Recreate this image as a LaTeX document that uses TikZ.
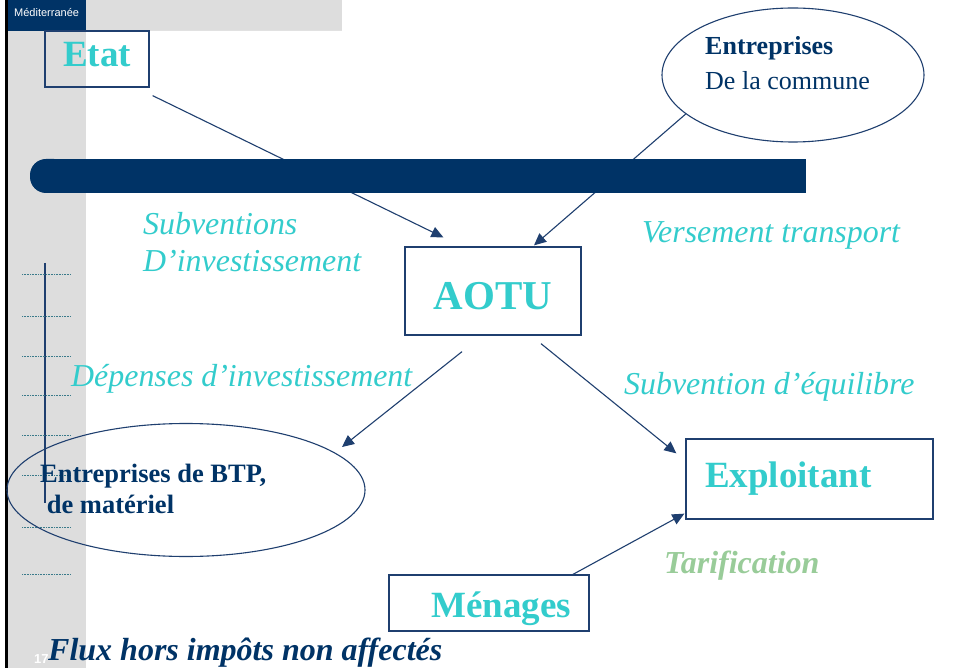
\documentclass[tikz,border=0pt]{standalone}
\usepackage{fontspec}
\setmainfont{Liberation Serif}
\newfontfamily\arialf{Liberation Sans}
\usetikzlibrary{arrows.meta,shapes.geometric}
\definecolor{navy}{HTML}{003366}
\definecolor{linec}{HTML}{1F3F6F}
\definecolor{cyant}{HTML}{33CCCC}
\definecolor{greent}{HTML}{99CC99}
\definecolor{grayb}{HTML}{DDDDDD}
\definecolor{dotc}{HTML}{3A7A8A}
\tikzset{
  boxn/.style={draw=linec, line width=1.3pt, rectangle, inner sep=0pt, text=cyant, font=\bfseries\fontsize{37}{40}\selectfont},
  ellnode/.style={draw=linec, line width=1.1pt, ellipse, inner sep=0pt},
  flow/.style={draw=linec, line width=1.1pt, -{Triangle[length=12pt,width=11pt]}},
  lbl/.style={anchor=base west, inner sep=0pt, text=cyant, font=\itshape\fontsize{31.9}{34}\selectfont},
  decdot/.style={draw=dotc, line width=0.8pt, dash pattern=on 1pt off 0.6pt}
}
\begin{document}
\begin{tikzpicture}[x=1pt,y=-1pt]
\useasboundingbox (0,0) rectangle (956,668);
% background decorations
\fill[grayb] (8,0) rectangle (86,668);
\fill[grayb] (86,0) rectangle (342,31);
\fill[white, rounded corners=15] (86,31) rectangle (980,700);
\fill[navy] (8,0) rectangle (86,31);
\draw[black, line width=3pt] (6.5,0) -- (6.5,668);
\node[anchor=base west, inner sep=0pt, text=white, font=\arialf\fontsize{11}{12}\selectfont] (brand) at (14,17) {Méditerranée};
\node[anchor=base west, inner sep=0pt, text=white, font=\arialf\bfseries\fontsize{13}{14}\selectfont] (pnum) at (34,663) {17};
% left ruler
\draw[linec, line width=1.3pt] (45,263) -- (45,503);
\foreach \yy in {274,316,356,395,435,475,527,574} {
  \draw[decdot] (22,\yy) -- (71,\yy);
}
% nodes
\node[boxn, minimum width=104pt, minimum height=56pt, text height=22pt, text depth=6pt] (etat) at (97,59) {Etat};
\node[ellnode, minimum width=262pt, minimum height=134pt] (ent) at (793,75) {};
\node[anchor=base west, inner sep=0pt, text=navy, align=left, font=\fontsize{26}{35}\selectfont] (entT) at (705,90) {\textbf{Entreprises}\\De la commune};
\node[boxn, minimum width=176pt, minimum height=88pt, font=\bfseries\fontsize{41}{44}\selectfont, text height=38pt, text depth=0pt] (aotu) at (493,291) {AOTU};
\node[ellnode, minimum width=358pt, minimum height=133pt] (btp) at (186,490) {};
\node[boxn, minimum width=247pt, minimum height=80pt, text width=209pt, inner xsep=19pt, align=left, text height=26pt, text depth=10pt] (expl) at (809.5,479) {Exploitant};
\node[boxn, minimum width=200pt, minimum height=56pt, text width=164pt, inner xsep=18pt, align=right, text height=34pt, text depth=6pt] (men) at (489,603) {Ménages};
% connectors
\draw[flow] ([shift={(3,8)}]etat.south east) -- ([shift={(39,-9)}]aotu.north west);
\draw[flow] (ent.200) -- ([shift={(41,-1)}]aotu.north);
\draw[flow] ([shift={(-31,16)}]aotu.south) -- ([shift={(156,-43)}]btp.center);
\draw[flow] ([shift={(48,8)}]aotu.south) -- ([shift={(-9,15)}]expl.north west);
\draw[flow] ([shift={(84,0)}]men.north) -- ([shift={(-1,-6)}]expl.south west);
% dark band over lines
\fill[navy, rounded corners=16] (30,159) rectangle (70,193);
\fill[navy] (50,159) rectangle (806,193);
% BTP text
\node[anchor=base west, inner sep=0pt, text=navy, align=left, font=\bfseries\fontsize{26.5}{31}\selectfont] (btpT) at (40,513) {Entreprises de BTP,\\\ de matériel};
% labels
\node[lbl] (l1) at (143,235) {Subventions};
\node[lbl] (l2) at (143,272) {D’investissement};
\node[lbl] (l3) at (642,243) {Versement transport};
\node[lbl] (l4) at (71,386) {Dépenses d’investissement};
\node[lbl] (l5) at (624,394) {Subvention d’équilibre};
\node[lbl, text=greent, font=\bfseries\itshape\fontsize{32}{34}\selectfont] (l6) at (664,573) {Tarification};
\node[lbl, text=navy, font=\bfseries\itshape\fontsize{32}{34}\selectfont] (flux) at (48,660) {Flux hors impôts non affectés};
\end{tikzpicture}
\end{document}
